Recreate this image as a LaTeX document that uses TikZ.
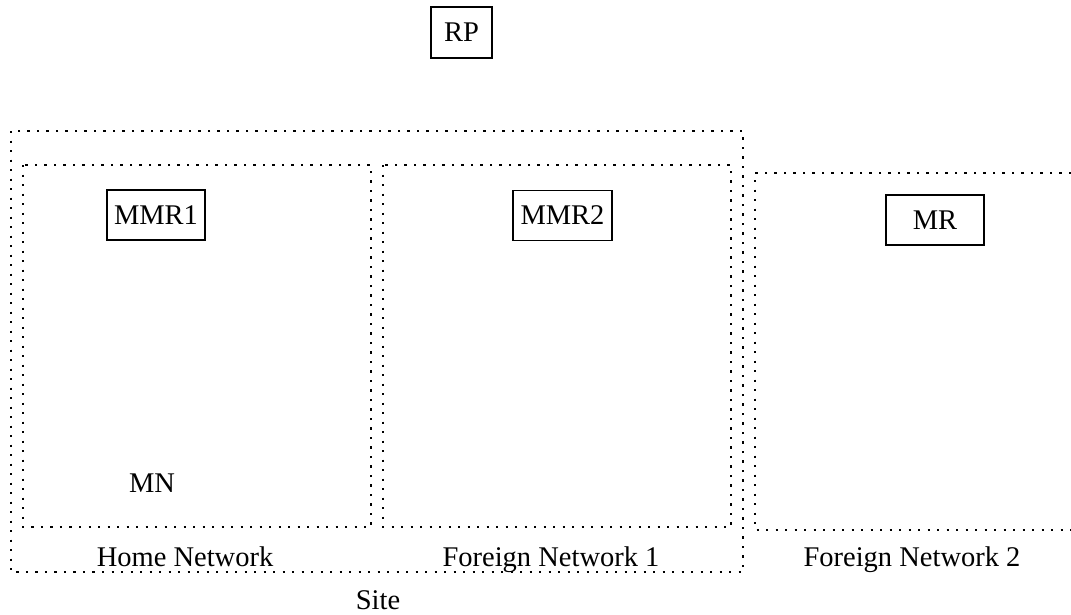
\documentclass[tikz,border=0pt]{standalone}
\usepackage{fontspec}
\setmainfont{Liberation Serif}
\begin{document}
\begin{tikzpicture}[x=1pt,y=-1pt,
  every node/.style={font=\fontsize{28.5}{30}\selectfont, inner sep=0pt},
  router/.style={draw, line width=1.6pt, minimum height=50pt, text depth=0pt},
  label/.style={anchor=base},
  region/.style={line width=2.2pt, dash pattern=on 2.2pt off 7.3pt}]
\useasboundingbox (0,0) rectangle (1071,614);

% site boundary and the networks it holds
\draw[region] (11,131) rectangle (743,572);
\draw[region] (23,165) rectangle (371,527);
\draw[region] (383,165) rectangle (731,527);
\draw[region] (1071,173) -- (755,173) -- (755,530) -- (1071,530);

% routers
\node[router, minimum width=61pt, minimum height=51pt] (rp) at (461.5,32.5) {RP};
\node[router, minimum width=98pt] (mmr1) at (156,215) {MMR1};
\node[router, minimum width=99pt] (mmr2) at (562.5,215.5) {MMR2};
\node[router, minimum width=98pt] (mr) at (935,220) {MR};

% mobile node
\node[label] (mn) at (152,492) {MN};

% network labels
\node[label] (home) at (185,566) {Home Network};
\node[label] (fn1) at (551,566) {Foreign Network 1};
\node[label] (fn2) at (912,566) {Foreign Network 2};
\node[label] (site) at (378,609) {Site};
\end{tikzpicture}
\end{document}
